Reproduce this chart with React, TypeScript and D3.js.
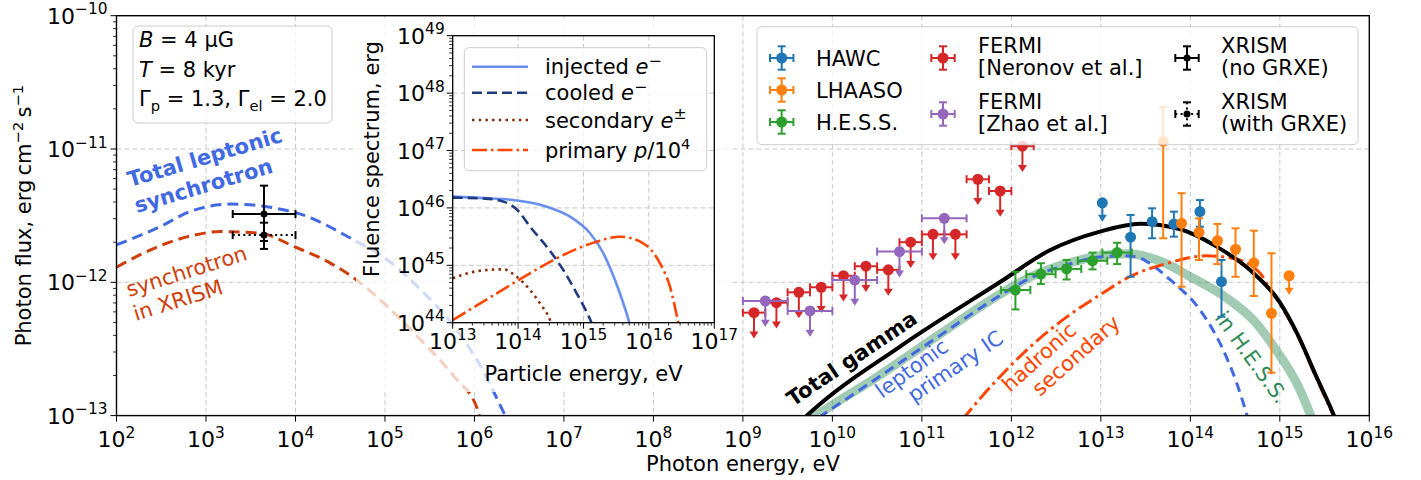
import React from "react";
import * as d3 from "d3";

type Pt = [number, number];

// ---------- main panel model curves: photon energy [eV], E^2 dN/dE [erg cm^-2 s^-1] ----------
const syncTotal: Pt[] = [
  [1.0e2, 1.91e-12], [3.06e2, 2.61e-12], [6.62e2, 3.39e-12], [1.9e3, 3.86e-12],
  [9.7e3, 3.35e-12], [4.54e4, 2.07e-12], [1.07e5, 1.47e-12], [2.52e5, 8.75e-13],
  [5.94e5, 4.65e-13], [1.18e6, 2.33e-13], [2.19e6, 1.01e-13], [2.63e6, 7.9e-14],
];
const syncXrism: Pt[] = [
  [1.0e2, 1.3e-12], [2.64e2, 1.8e-12], [6.24e2, 2.2e-12], [1.47e3, 2.4e-12],
  [4.12e3, 2.33e-12], [9.7e3, 1.85e-12], [2.29e4, 1.43e-12], [5.4e4, 9.82e-13],
  [1.07e5, 6.56e-13], [2.52e5, 3.69e-13], [5.94e5, 1.96e-13], [1.09e6, 1.1e-13],
  [1.17e6, 8.9e-14],
];
const icLeptonic: Pt[] = [
  [5.01e9, 8.3e-14], [7.59e9, 1.0e-13], [3.16e10, 1.91e-13], [1.58e11, 3.98e-13],
  [7.41e11, 7.94e-13], [1.74e12, 1.1e-12], [4.17e12, 1.35e-12], [9.77e12, 1.55e-12],
  [1.78e13, 1.58e-12], [2.51e13, 1.55e-12], [3.55e13, 1.38e-12], [5.89e13, 1.05e-12],
  [1.29e14, 6.17e-13], [2.34e14, 3.09e-13], [3.31e14, 1.74e-13], [4.27e14, 1.02e-13],
  [4.57e14, 8.7e-14],
];
const icInHess: Pt[] = [
  [4.47e9, 8.3e-14], [6.61e9, 1.0e-13], [3.16e10, 1.95e-13], [1.58e11, 4.07e-13],
  [7.41e11, 8.13e-13], [1.74e12, 1.12e-12], [4.17e12, 1.38e-12], [9.77e12, 1.58e-12],
  [2.0e13, 1.64e-12], [5.37e13, 1.38e-12], [9.77e13, 1.11e-12], [2.34e14, 7.94e-13],
  [5.5e14, 4.9e-13], [9.12e14, 3.09e-13], [1.55e15, 1.74e-13], [2.19e15, 1.02e-13],
  [2.4e15, 8.7e-14],
];
const totalGamma: Pt[] = [
  [4.47e9, 9.1e-14], [5.62e9, 1.05e-13], [5.75e10, 3.31e-13], [7.41e11, 1.0e-12],
  [2.69e12, 1.74e-12], [9.77e12, 2.4e-12], [2.75e13, 2.75e-12], [7.59e13, 2.51e-12],
  [1.95e14, 1.86e-12], [4.68e14, 1.23e-12], [1.0e15, 7.08e-13], [1.58e15, 4.07e-13],
  [2.57e15, 1.95e-13], [3.98e15, 1.02e-13], [4.37e15, 8.7e-14],
];
const hadronicSecondary: Pt[] = [
  [2.82e11, 9.3e-14], [3.16e11, 1.02e-13], [7.41e11, 1.95e-13], [1.78e12, 3.47e-13],
  [4.17e12, 5.5e-13], [1.0e13, 8.13e-13], [2.09e13, 1.1e-12], [5.37e13, 1.38e-12],
  [1.51e14, 1.58e-12], [3.02e14, 1.51e-12], [6.03e14, 1.17e-12], [7.76e14, 8.9e-13],
  [1.0e15, 6.9e-13], [1.58e15, 3.98e-13], [2.57e15, 1.9e-13], [3.98e15, 1.0e-13],
];

// ---------- inset: particle fluence spectra, energy [eV] vs erg ----------
const injectedElectrons: Pt[] = [
  [1.0e13, 1.57e46], [3.16e13, 1.48e46], [8.45e13, 1.37e46], [2.74e14, 1.05e46],
  [6.22e14, 7.03e45], [1.26e15, 3.61e45], [2.01e15, 1.62e45], [3.03e15, 5.55e44],
  [4.06e15, 2.18e44], [5.01e15, 1.0e44], [5.25e15, 7.9e43],
];
const cooledElectrons: Pt[] = [
  [1.0e13, 1.51e46], [3.16e13, 1.45e46], [6.31e13, 1.26e46], [1.0e14, 8.91e45],
  [1.52e14, 4.71e45], [2.74e14, 2.11e45], [4.91e14, 8.28e44], [7.87e14, 3.25e44],
  [1.33e15, 1.0e44], [1.45e15, 7.9e43],
];
const secondaryPairs: Pt[] = [
  [1.0e13, 5.94e44], [2.61e13, 8.05e44], [5.94e13, 8.51e44], [9.53e13, 6.32e44],
  [1.52e14, 3.72e44], [2.16e14, 2.18e44], [3.08e14, 1.11e44], [3.24e14, 9.5e43],
];
const primaryProtons: Pt[] = [
  [1.0e13, 1.11e44], [4.71e13, 3.25e44], [1.52e14, 7.26e44], [4.91e14, 1.51e45],
  [1.59e15, 2.58e45], [3.61e15, 3.15e45], [8.2e15, 2.42e45], [1.48e16, 1.08e45],
  [2.1e16, 4.24e44], [2.82e16, 1.0e44], [2.95e16, 7.9e43],
];

// ---------- measurements ----------
// [E, F, Flow, Fhigh]
const hawcPoints: number[][] = [
  [2.15e13, 2.18e-12, 1.1e-12, 3.2e-12],
  [3.74e13, 2.85e-12, 2.14e-12, 3.59e-12],
  [6.55e13, 2.74e-12, 2.2e-12, 3.39e-12],
  [1.28e14, 3.39e-12, 2.61e-12, 4.14e-12],
  [2.23e14, 1.01e-12, 5.52e-13, 1.47e-12],
];
const hawcLimits: Pt[] = [[1.04e13, 3.95e-12]];
const lhaasoPoints: number[][] = [
  [4.97e13, 1.14e-11, 2.14e-12, 2.07e-11],
  [7.98e13, 2.77e-12, 9.27e-13, 4.66e-12],
  [1.25e14, 2.37e-12, 1.47e-12, 3.02e-12],
  [2.01e14, 2.05e-12, 1.37e-12, 2.74e-12],
  [3.2e14, 1.77e-12, 1.1e-12, 2.54e-12],
  [5.12e14, 1.4e-12, 7.89e-13, 2.44e-12],
  [8.07e14, 5.85e-13, 2.1e-13, 1.65e-12],
];
const lhaasoLimits: Pt[] = [[1.27e15, 1.12e-12]];
// [E, Emin, Emax, F, Flow, Fhigh]
const hessPoints: number[][] = [
  [1.11e12, 7.64e11, 1.63e12, 8.75e-13, 6.26e-13, 1.2e-12],
  [2.14e12, 1.47e12, 3.12e12, 1.15e-12, 9.7e-13, 1.39e-12],
  [4.14e12, 2.84e12, 6.04e12, 1.26e-12, 1.05e-12, 1.47e-12],
  [8.07e12, 5.53e12, 1.18e13, 1.45e-12, 1.25e-12, 1.67e-12],
  [1.52e13, 1.04e13, 2.22e13, 1.67e-12, 1.37e-12, 1.98e-12],
];
// upper limits [E, Emin, Emax, F]
const fermiNeronov: number[][] = [
  [1.33e9, 1.0e9, 1.78e9, 5.92e-13],
  [2.37e9, 1.78e9, 3.16e9, 7.03e-13],
  [4.22e9, 3.16e9, 5.62e9, 8.41e-13],
  [7.5e9, 5.62e9, 1.0e10, 9.18e-13],
  [1.33e10, 1.0e10, 1.78e10, 1.12e-12],
  [2.37e10, 1.78e10, 3.16e10, 1.32e-12],
  [4.22e10, 3.16e10, 5.62e10, 1.24e-12],
  [7.5e10, 5.62e10, 1.0e11, 2.0e-12],
  [1.33e11, 1.0e11, 1.78e11, 2.29e-12],
  [2.37e11, 1.78e11, 3.16e11, 2.29e-12],
  [4.22e11, 3.16e11, 5.62e11, 5.93e-12],
  [7.5e11, 5.62e11, 1.0e12, 4.84e-12],
  [1.33e12, 1.0e12, 1.78e12, 1.05e-11],
];
const fermiZhao: number[][] = [
  [1.78e9, 1.0e9, 3.16e9, 7.24e-13],
  [5.62e9, 3.16e9, 1.0e10, 6.1e-13],
  [1.78e10, 1.0e10, 3.16e10, 1.04e-12],
  [5.62e10, 3.16e10, 1.0e11, 1.7e-12],
  [1.78e11, 1.0e11, 3.16e11, 3.02e-12],
];
// [E, Emin, Emax, F, Flow, Fhigh]
const xrismNoGrxe = [4.45e3, 1.99e3, 1.0e4, 3.25e-12, 1.78e-12, 5.31e-12];
const xrismGrxe = [4.45e3, 1.99e3, 1.0e4, 2.26e-12, 2.04e-12, 2.8e-12];

const mainXTicks = d3.range(2, 17);
const mainYTicks = d3.range(-13, -9);
const insetXTicks = d3.range(13, 18);
const insetYTicks = d3.range(44, 50);

const legendSingle = ["HAWC", "LHAASO", "H.E.S.S."];
const legendFermi = [["FERMI", "[Neronov et al.]"], ["FERMI", "[Zhao et al.]"]];
const legendXrism = [["XRISM", "(no GRXE)"], ["XRISM", "(with GRXE)"]];

const FONT = "'DejaVu Sans', sans-serif";
const FS = 21;
const TICK_FS = 22;
const MAIN = { l: 116.5, r: 1369.3, t: 15.7, b: 415.6 };
const INSET = { l: 452.7, r: 714.3, t: 35.7, b: 322.7 };
const COL = {
  hawc: "#1f77b4", lhaaso: "#ff7f0e", hess: "#2ca02c", fermiN: "#d62728", fermiZ: "#9467bd",
  blue: "#4169e1", sync: "#cf3e0a", hadr: "#ff4500", band: "#2e8b57",
  injected: "#6a8ff0", cooled: "#1f3a80", secondary: "#8b2e0e", grid: "#c8c8c8",
};
const UL_FERMI = 0.64;
const UL_TEV = 0.72;

const sup = (p: number) => String(p).replace("-", "\u2212");

function Pow({ x, y, exp, anchor = "middle", size = TICK_FS }: { x: number; y: number; exp: number; anchor?: string; size?: number }) {
  return (
    <text x={x} y={y} textAnchor={anchor as any} fontSize={size} fontFamily={FONT} fill="#000">
      10<tspan dy={-size * 0.42} fontSize={size * 0.7}>{sup(exp)}</tspan>
    </text>
  );
}

type ErrProps = {
  x: number; y: number; color: string;
  xl?: number; xr?: number; yt?: number; yb?: number; tip?: number;
  r?: number; cap?: number; lw?: number; dash?: string;
};
function ErrMark({ x, y, color, xl, xr, yt, yb, tip, r = 5.5, cap = 4, lw = 2, dash }: ErrProps) {
  return (
    <g>
      <g stroke={color} strokeWidth={lw} fill="none">
        {xl !== undefined && xr !== undefined && (
          <>
            <line x1={xl} x2={xr} y1={y} y2={y} strokeDasharray={dash} />
            <line x1={xl} x2={xl} y1={y - cap} y2={y + cap} />
            <line x1={xr} x2={xr} y1={y - cap} y2={y + cap} />
          </>
        )}
        {yt !== undefined && yb !== undefined && (
          <>
            <line x1={x} x2={x} y1={yt} y2={yb} strokeDasharray={dash} />
            <line x1={x - cap} x2={x + cap} y1={yt} y2={yt} />
            <line x1={x - cap} x2={x + cap} y1={yb} y2={yb} />
          </>
        )}
        {tip !== undefined && <line x1={x} x2={x} y1={y} y2={tip - 3} />}
      </g>
      {tip !== undefined && (
        <polygon points={`${x - 4.5},${tip - 7} ${x + 4.5},${tip - 7} ${x},${tip}`} fill={color} />
      )}
      <circle cx={x} cy={y} r={r} fill={color} />
    </g>
  );
}

export default function App() {
  const xM = d3.scaleLog().domain([1e2, 1e16]).range([MAIN.l, MAIN.r]);
  const yM = d3.scaleLog().domain([1e-13, 1e-10]).range([MAIN.b, MAIN.t]);
  const xI = d3.scaleLog().domain([1e13, 1e17]).range([INSET.l, INSET.r]);
  const yI = d3.scaleLog().domain([1e44, 1e49]).range([INSET.b, INSET.t]);

  const lineM = d3.line<Pt>().x((d) => xM(d[0])).y((d) => yM(d[1])).curve(d3.curveMonotoneX);
  const lineI = d3.line<Pt>().x((d) => xI(d[0])).y((d) => yI(d[1])).curve(d3.curveMonotoneX);

  const minorY = (lo: number, hi: number) => {
    const out: number[] = [];
    for (let p = lo; p < hi; p++) for (let k = 2; k <= 9; k++) out.push(k * Math.pow(10, p));
    return out;
  };

  const legendRows = [58, 90, 122];
  const legendColors = [COL.hawc, COL.lhaaso, COL.hess];
  const fermiRows = [58, 114];
  const fermiColors = [COL.fermiN, COL.fermiZ];
  const insetLegend = [
    { y: 66.7, color: COL.injected, dash: undefined as string | undefined, name: "injected ", particle: "e", mark: "\u2212" },
    { y: 92.7, color: COL.cooled, dash: "10 5", name: "cooled ", particle: "e", mark: "\u2212" },
    { y: 120, color: COL.secondary, dash: "2.5 4.2", name: "secondary ", particle: "e", mark: "\u00b1" },
    { y: 150, color: COL.hadr, dash: "15 4 2.5 4", name: "primary ", particle: "p", mark: "" },
  ];

  return (
    <div style={{ position: "absolute", left: 0, top: 0 }}>
      <svg width={1421} height={480} viewBox="0 0 1421 480" fontFamily={FONT}>
        <defs>
          <clipPath id="mainClip">
            <rect x={MAIN.l} y={MAIN.t} width={MAIN.r - MAIN.l} height={MAIN.b - MAIN.t} />
          </clipPath>
          <clipPath id="insetClip">
            <rect x={INSET.l} y={INSET.t} width={INSET.r - INSET.l} height={INSET.b - INSET.t} />
          </clipPath>
        </defs>
        <rect width={1421} height={480} fill="#fff" />

        {/* main grid */}
        <g stroke={COL.grid} strokeWidth={1} strokeDasharray="5 3">
          {mainXTicks.slice(1, -1).map((p) => (
            <line key={p} x1={xM(10 ** p)} x2={xM(10 ** p)} y1={MAIN.t} y2={MAIN.b} />
          ))}
          {mainYTicks.slice(1, -1).map((p) => (
            <line key={p} x1={MAIN.l} x2={MAIN.r} y1={yM(10 ** p)} y2={yM(10 ** p)} />
          ))}
        </g>

        {/* model curves */}
        <g clipPath="url(#mainClip)" fill="none">
          <path d={lineM(icInHess)!} stroke={COL.band} strokeOpacity={0.45} strokeWidth={9} />
          <path d={lineM(syncTotal)!} stroke={COL.blue} strokeWidth={3} strokeDasharray="11 6" />
          <path d={lineM(syncXrism)!} stroke={COL.sync} strokeWidth={3} strokeDasharray="11 6" />
          <path d={lineM(icLeptonic)!} stroke={COL.blue} strokeWidth={3} strokeDasharray="10 6" />
          <path d={lineM(hadronicSecondary)!} stroke={COL.hadr} strokeWidth={3} strokeDasharray="15 4.5 3 4.5" />
          <path d={lineM(totalGamma)!} stroke="#000" strokeWidth={4} />
        </g>

        {/* curve labels */}
        <g fontSize={FS}>
          <text transform="translate(130,187) rotate(-16.5)" fill={COL.blue} fontWeight="bold">Total leptonic</text>
          <text transform="translate(137,213) rotate(-16.5)" fill={COL.blue} fontWeight="bold">synchrotron</text>
          <text transform="translate(129,297) rotate(-17.5)" fill={COL.sync}>synchrotron</text>
          <text transform="translate(136,321) rotate(-17.5)" fill={COL.sync}>in XRISM</text>
          <text transform="translate(793,407) rotate(-34)" fill="#000" fontWeight="bold">Total gamma</text>
          <text transform="translate(882,399) rotate(-36)" fill={COL.blue}>leptonic</text>
          <text transform="translate(914,403) rotate(-34)" fill={COL.blue}>primary IC</text>
          <text transform="translate(1010,393) rotate(-42)" fill={COL.hadr}>hadronic</text>
          <text transform="translate(1040,397) rotate(-41.5)" fill={COL.hadr}>secondary</text>
          <text transform="translate(1214,318) rotate(54)" fill={COL.band}>in H.E.S.S.</text>
        </g>

        {/* measurements */}
        <g>
          {hawcPoints.map((d, i) => (
            <ErrMark key={"h" + i} x={xM(d[0])} y={yM(d[1])} yb={yM(d[2])} yt={yM(d[3])} color={COL.hawc} />
          ))}
          {hawcLimits.map((d, i) => (
            <ErrMark key={"hl" + i} x={xM(d[0])} y={yM(d[1])} tip={yM(d[1] * UL_TEV)} color={COL.hawc} />
          ))}
          {lhaasoPoints.map((d, i) => (
            <ErrMark key={"l" + i} x={xM(d[0])} y={yM(d[1])} yb={yM(d[2])} yt={yM(d[3])} color={COL.lhaaso} />
          ))}
          {lhaasoLimits.map((d, i) => (
            <ErrMark key={"ll" + i} x={xM(d[0])} y={yM(d[1])} tip={yM(d[1] * UL_TEV)} color={COL.lhaaso} />
          ))}
          {hessPoints.map((d, i) => (
            <ErrMark key={"s" + i} x={xM(d[0])} xl={xM(d[1])} xr={xM(d[2])} y={yM(d[3])} yb={yM(d[4])} yt={yM(d[5])} color={COL.hess} />
          ))}
          {fermiNeronov.map((d, i) => (
            <ErrMark key={"fn" + i} x={xM(d[0])} xl={xM(d[1])} xr={xM(d[2])} y={yM(d[3])} tip={yM(d[3] * UL_FERMI)} color={COL.fermiN} />
          ))}
          {fermiZhao.map((d, i) => (
            <ErrMark key={"fz" + i} x={xM(d[0])} xl={xM(d[1])} xr={xM(d[2])} y={yM(d[3])} tip={yM(d[3] * UL_FERMI)} color={COL.fermiZ} />
          ))}
          <ErrMark x={xM(xrismGrxe[0])} xl={xM(xrismGrxe[1])} xr={xM(xrismGrxe[2])} y={yM(xrismGrxe[3])}
            yb={yM(xrismGrxe[4])} yt={yM(xrismGrxe[5])} color="#000" r={3.5} dash="2 3.3" />
          <ErrMark x={xM(xrismNoGrxe[0])} xl={xM(xrismNoGrxe[1])} xr={xM(xrismNoGrxe[2])} y={yM(xrismNoGrxe[3])}
            yb={yM(xrismNoGrxe[4])} yt={yM(xrismNoGrxe[5])} color="#000" r={3.5} />
        </g>

        {/* veil behind the inset and its labels */}
        <rect x={356} y={18} width={377} height={374} fill="#fff" fillOpacity={0.75} />

        {/* ---------------- inset ---------------- */}
        <rect x={INSET.l} y={INSET.t} width={INSET.r - INSET.l} height={INSET.b - INSET.t} fill="#fff" />
        <g stroke={COL.grid} strokeWidth={1} strokeDasharray="5 3">
          {insetXTicks.slice(1, -1).map((p) => (
            <line key={p} x1={xI(10 ** p)} x2={xI(10 ** p)} y1={INSET.t} y2={INSET.b} />
          ))}
          {insetYTicks.slice(1, -1).map((p) => (
            <line key={p} x1={INSET.l} x2={INSET.r} y1={yI(10 ** p)} y2={yI(10 ** p)} />
          ))}
        </g>
        <g clipPath="url(#insetClip)" fill="none" strokeWidth={2.6}>
          <path d={lineI(injectedElectrons)!} stroke={COL.injected} />
          <path d={lineI(cooledElectrons)!} stroke={COL.cooled} strokeDasharray="10 5" />
          <path d={lineI(secondaryPairs)!} stroke={COL.secondary} strokeDasharray="2.5 4.2" />
          <path d={lineI(primaryProtons)!} stroke={COL.hadr} strokeDasharray="15 4 2.5 4" />
        </g>
        <rect x={INSET.l} y={INSET.t} width={INSET.r - INSET.l} height={INSET.b - INSET.t} fill="none" stroke="#000" strokeWidth={1.3} />
        <g stroke="#000" strokeWidth={1}>
          {insetXTicks.map((p) => (
            <line key={p} x1={xI(10 ** p)} x2={xI(10 ** p)} y1={INSET.b} y2={INSET.b + 6} />
          ))}
          {minorY(13, 17).map((v, i) => (
            <line key={"mx" + i} x1={xI(v)} x2={xI(v)} y1={INSET.b} y2={INSET.b + 3} strokeWidth={0.8} />
          ))}
          {insetYTicks.map((p) => (
            <line key={p} x1={INSET.l - 6} x2={INSET.l} y1={yI(10 ** p)} y2={yI(10 ** p)} />
          ))}
          {minorY(44, 49).map((v, i) => (
            <line key={"my" + i} x1={INSET.l - 3.5} x2={INSET.l} y1={yI(v)} y2={yI(v)} strokeWidth={0.8} />
          ))}
        </g>
        {insetXTicks.map((p) => (
          <Pow key={p} x={xI(10 ** p)} y={349} exp={p} />
        ))}
        {insetYTicks.map((p) => (
          <Pow key={p} x={INSET.l - 8} y={yI(10 ** p) + 8} exp={p} anchor="end" />
        ))}
        <text x={(INSET.l + INSET.r) / 2} y={381} textAnchor="middle" fontSize={FS}>Particle energy, eV</text>
        <text transform="translate(379,159) rotate(-90)" textAnchor="middle" fontSize={FS}>
          Fluence spectrum, erg
        </text>
        {/* inset legend */}
        <rect x={464.3} y={47.7} width={242.4} height={123} rx={5} fill="#fff" fillOpacity={0.8} stroke="#cccccc" />
        {insetLegend.map((e) => (
          <g key={e.name}>
            <line x1={472} x2={528} y1={e.y} y2={e.y} stroke={e.color} strokeWidth={2.6} strokeDasharray={e.dash} />
            <text x={545} y={e.y + 7.5} fontSize={FS}>
              {e.name}
              <tspan fontStyle="italic">{e.particle}</tspan>
              {e.mark ? (
                <tspan dy={-8.5} fontSize={FS * 0.75}>{e.mark}</tspan>
              ) : (
                <>
                  /10<tspan dy={-8.5} fontSize={FS * 0.7}>4</tspan>
                </>
              )}
            </text>
          </g>
        ))}

        {/* ---------------- main axes ---------------- */}
        <rect x={MAIN.l} y={MAIN.t} width={MAIN.r - MAIN.l} height={MAIN.b - MAIN.t} fill="none" stroke="#000" strokeWidth={1.4} />
        <g stroke="#000" strokeWidth={1}>
          {mainXTicks.map((p) => (
            <line key={p} x1={xM(10 ** p)} x2={xM(10 ** p)} y1={MAIN.b} y2={MAIN.b + 6} />
          ))}
          {mainYTicks.map((p) => (
            <line key={p} x1={MAIN.l - 6} x2={MAIN.l} y1={yM(10 ** p)} y2={yM(10 ** p)} />
          ))}
          {minorY(-13, -10).map((v, i) => (
            <line key={"m" + i} x1={MAIN.l - 3.5} x2={MAIN.l} y1={yM(v)} y2={yM(v)} strokeWidth={0.8} />
          ))}
        </g>
        {mainXTicks.map((p) => (
          <Pow key={p} x={xM(10 ** p)} y={447} exp={p} />
        ))}
        {mainYTicks.map((p) => (
          <Pow key={p} x={MAIN.l - 9} y={yM(10 ** p) + 8} exp={p} anchor="end" />
        ))}
        <text x={(MAIN.l + MAIN.r) / 2} y={471} textAnchor="middle" fontSize={FS}>Photon energy, eV</text>
        <text transform={`translate(31,${(MAIN.t + MAIN.b) / 2}) rotate(-90)`} textAnchor="middle" fontSize={FS}>
          Photon flux, erg{"\u2009"}cm<tspan dy={-8.5} fontSize={FS * 0.7}>{"\u22122"}</tspan>
          <tspan dy={8.5}>{"\u2009"}s</tspan>
          <tspan dy={-8.5} fontSize={FS * 0.7}>{"\u22121"}</tspan>
        </text>

        {/* parameter box */}
        <rect x={133} y={26} width={199} height={97} rx={5} fill="#fff" fillOpacity={0.8} stroke="#cccccc" />
        <g fontSize={FS}>
          <text x={139} y={47}>
            <tspan fontStyle="italic">B</tspan> = 4 μG
          </text>
          <text x={139} y={77}>
            <tspan fontStyle="italic">T</tspan> = 8 kyr
          </text>
          <text x={139} y={106}>
            Γ<tspan dy={5} fontSize={FS * 0.7}>p</tspan>
            <tspan dy={-5}> = 1.3, Γ</tspan>
            <tspan dy={5} fontSize={FS * 0.7}>el</tspan>
            <tspan dy={-5}> = 2.0</tspan>
          </text>
        </g>

        {/* main legend */}
        <rect x={757} y={26.7} width={601} height={118} rx={5} fill="#fff" fillOpacity={0.8} stroke="#cccccc" />
        {legendSingle.map((name, i) => (
          <g key={name}>
            <ErrMark x={781.7} y={legendRows[i]} xl={770} xr={793.4} yt={legendRows[i] - 11.7} yb={legendRows[i] + 11.7} color={legendColors[i]} />
            <text x={816} y={legendRows[i] + 8} fontSize={FS}>{name}</text>
          </g>
        ))}
        {legendFermi.map((lines, i) => (
          <g key={lines[1]}>
            <ErrMark x={943} y={fermiRows[i]} xl={931.3} xr={954.7} yt={fermiRows[i] - 11.7} yb={fermiRows[i] + 11.7} color={fermiColors[i]} />
            <text x={978} y={fermiRows[i] - 5.5} fontSize={FS}>{lines[0]}</text>
            <text x={978} y={fermiRows[i] + 17} fontSize={FS}>{lines[1]}</text>
          </g>
        ))}
        {legendXrism.map((lines, i) => (
          <g key={lines[1]}>
            <ErrMark x={1187} y={fermiRows[i]} xl={1175.3} xr={1198.7} yt={fermiRows[i] - 11.7} yb={fermiRows[i] + 11.7}
              color="#000" r={3.5} dash={i === 1 ? "2 3.3" : undefined} />
            <text x={1221} y={fermiRows[i] - 5.5} fontSize={FS}>{lines[0]}</text>
            <text x={1221} y={fermiRows[i] + 17} fontSize={FS}>{lines[1]}</text>
          </g>
        ))}
      </svg>
    </div>
  );
}
